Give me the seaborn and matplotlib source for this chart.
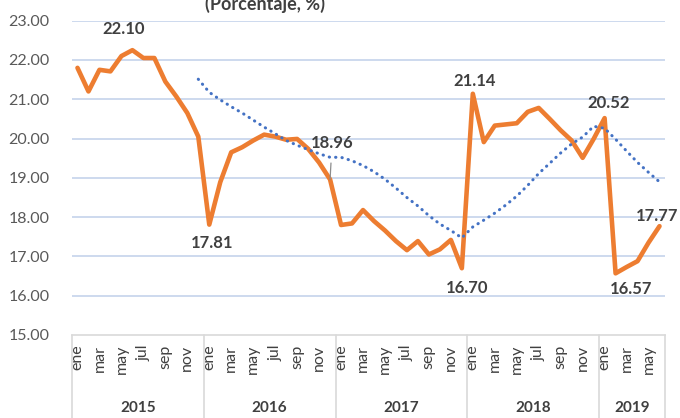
import matplotlib
matplotlib.use("Agg")
import matplotlib.pyplot as plt
import matplotlib.transforms as mtransforms
import numpy as np
import pandas as pd
import seaborn as sns

sns.set_theme(style="white")
plt.rcParams["font.family"] = ["Lato", "DejaVu Sans"]

# Monthly rate, Jan 2015 - Jun 2019 (percent)
years = ["2015", "2016", "2017", "2018", "2019"]
months_per_year = [12, 12, 12, 12, 6]
month_names = ["ene", "feb", "mar", "abr", "may", "jun",
               "jul", "ago", "sep", "oct", "nov", "dic"]
rate = [
    21.80, 21.20, 21.75, 21.71, 22.10, 22.25, 22.05, 22.05, 21.45, 21.07, 20.65, 20.05,
    17.81, 18.89, 19.65, 19.78, 19.95, 20.10, 20.05, 19.97, 19.99, 19.74, 19.39, 18.96,
    17.80, 17.84, 18.18, 17.90, 17.66, 17.39, 17.16, 17.39, 17.05, 17.18, 17.42, 16.70,
    21.14, 19.91, 20.33, 20.36, 20.39, 20.68, 20.78, 20.50, 20.21, 19.95, 19.51, 19.99,
    20.52, 16.57, 16.73, 16.88, 17.35, 17.77,
]
# labelled points: (index, text)
labelled = [(4, "22.10"), (12, "17.81"), (23, "18.96"), (35, "16.70"),
            (36, "21.14"), (48, "20.52"), (49, "16.57"), (53, "17.77")]
y_ticks = [15, 16, 17, 18, 19, 20, 21, 22, 23]

month_labels = [month_names[m] for y, n in zip(years, months_per_year) for m in range(n)]
df = pd.DataFrame({"t": np.arange(len(rate)), "rate": rate, "mes": month_labels})
# 12-period moving average trendline
df["media_movil"] = df["rate"].rolling(12).mean()

W, H = 680, 418
fig = plt.figure(figsize=(W / 100, H / 100), dpi=100)
left, right, top, bottom = 72, 665, 20.7, 335
ax = fig.add_axes([left / W, 1 - bottom / H, (right - left) / W, (bottom - top) / H])

grid_color = "#c5d3eb"
for v in y_ticks[1:]:
    ax.axhline(v, color=grid_color, lw=1.2, zorder=0)

sns.lineplot(data=df, x="t", y="rate", ax=ax, color="#ED7D31", lw=3.3,
             solid_joinstyle="round", zorder=3)
sns.lineplot(data=df, x="t", y="media_movil", ax=ax, color="#4472C4", lw=2.2,
             linestyle=(0, (0.1, 2.0)), dash_capstyle="round", zorder=4)

n = len(rate)
ax.set_xlim(-0.5, n - 0.5)
ax.set_ylim(15, 23)
ax.set_yticks(y_ticks)
ax.set_yticklabels([f"{v:.2f}" for v in y_ticks], fontsize=11.5, color="#595959")
ax.tick_params(axis="y", length=0, pad=16)

ax.set_xticks(df["t"][::2])
ax.set_xticklabels(df["mes"][::2], rotation=90, fontsize=11.5, color="#404040")
ax.tick_params(axis="x", length=0, pad=7)
ax.set_xlabel("")
ax.set_ylabel("")

for s in ["top", "right", "left"]:
    ax.spines[s].set_visible(False)
ax.spines["bottom"].set_color("#d9d9d9")
ax.spines["bottom"].set_linewidth(1.2)

# category box: year separators and year labels
trans = mtransforms.blended_transform_factory(ax.transData, ax.transAxes)
depth = -(H - bottom) / (bottom - top)
edges = np.concatenate([[0], np.cumsum(months_per_year)]) - 0.5
for e in edges:
    ax.plot([e, e], [0, depth], color="#d9d9d9", lw=1.2, transform=trans, clip_on=False)
for y, a, b in zip(years, edges[:-1], edges[1:]):
    ax.text((a + b) / 2, -0.232, y, transform=trans, ha="center", va="center",
            fontsize=11, fontweight="bold", color="#404040")

# data labels
offsets = {4: (2, 27), 12: (3, -18), 23: (2, 36), 35: (5, -20),
           36: (2, 13), 48: (4, 15), 49: (16, -16), 53: (-2, 10)}
for i, txt in labelled:
    dx, dy = offsets[i]
    kw = {}
    if i == 23:
        kw["arrowprops"] = dict(arrowstyle="-", color="#8c8c8c", lw=0.9,
                                shrinkA=6, shrinkB=0)
    ax.annotate(txt, xy=(i, rate[i]), xytext=(dx, dy), textcoords="offset pixels",
                ha="center", va="center", fontsize=12, fontweight="bold",
                color="#404040", annotation_clip=False, zorder=6, **kw)

fig.text(265 / W, 1 - 10 / H, "(Porcentaje, %)", ha="center", va="baseline",
         fontsize=13, fontweight="bold", color="#404040")

fig.savefig("out.png", dpi=100, facecolor="white")
